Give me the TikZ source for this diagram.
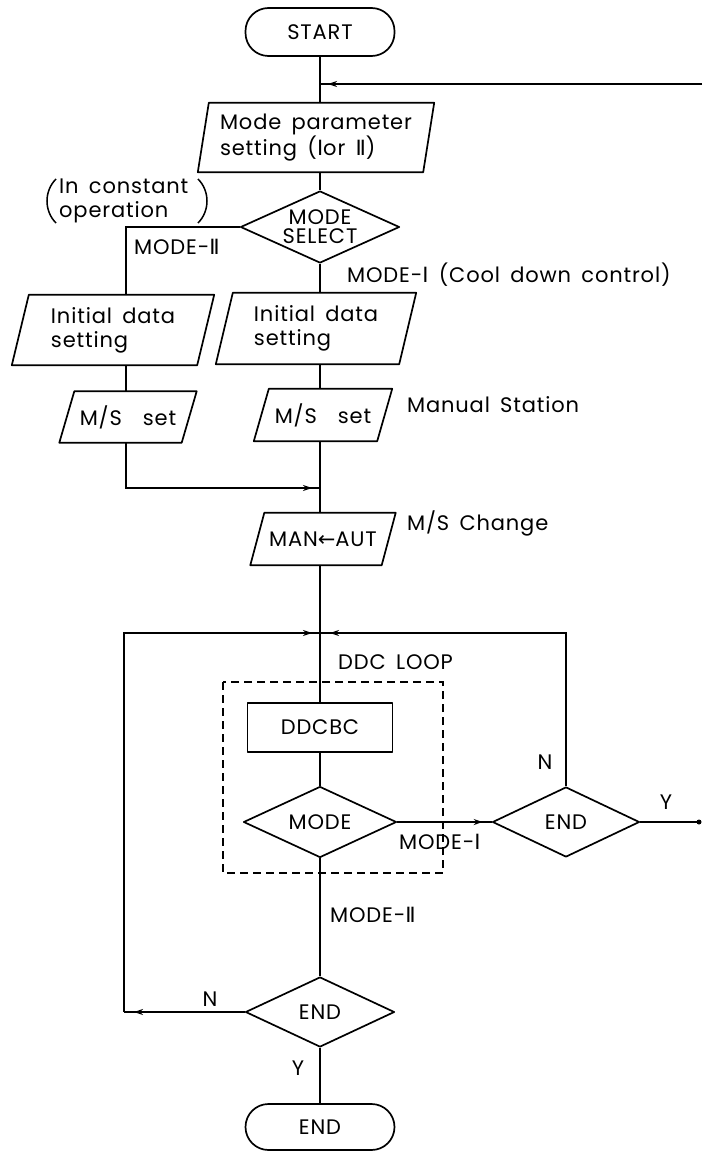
\documentclass[tikz,border=0pt]{standalone}
\usepackage{fontspec}
\setmainfont{Poppins}[LetterSpace=4, WordSpace=1.6]
\newfontfamily\djv{DejaVu Sans}
\usetikzlibrary{shapes.geometric,arrows.meta,decorations.markings,calc}
\newcommand{\RI}{{\djv Ⅰ}}
\newcommand{\RII}{{\djv Ⅱ}}
\newcommand{\paradraw}[2]{\draw[shp] ($(#1.north west)+(#2,0)$) -- (#1.north east) -- ($(#1.south east)-(#2,0)$) -- (#1.south west) -- cycle;}
\tikzset{
  txt/.style={font=\fontsize{21}{24}\selectfont},
  shp/.style={line width=1.7pt, line join=round},
  term/.style={draw, shp, txt, rounded corners=23pt, minimum width=149pt, minimum height=48pt, inner sep=0pt},
  pbox/.style={rectangle, txt, inner sep=0pt, align=left},
  dia/.style={diamond, draw, shp, inner sep=0pt},
  conn/.style={line width=1.7pt},
  arrowat/.style={postaction={decorate,decoration={markings,mark=at position #1 with {\arrow{Stealth[length=9pt,width=6pt]}}}}},
  lbl/.style={txt, inner sep=0pt},
}
\begin{document}
\begin{tikzpicture}[x=1pt,y=-1pt]
\useasboundingbox (0,0) rectangle (702,1153);
% nodes
\node[term] (start) at (320,32) {START};
\coordinate (fbJ) at (320,84);
\coordinate (fbR) at (702,84);
\node[pbox, minimum width=236pt, minimum height=69pt] (param) at (316,137.5) {Mode parameter\\setting (\RI or \RII)};
\node[dia, minimum width=159pt, minimum height=72pt, label={[lbl,align=center,font=\fontsize{21}{19}\selectfont]center:{MODE\\SELECT}}] (modesel) at (320,227) {};
\coordinate (colL) at (126,0);
\node[pbox, minimum width=202pt, minimum height=70pt] (initL) at (113,330) {Initial data\\setting};
\node[pbox, minimum width=200pt, minimum height=71pt] (initR) at (316,328.5) {Initial data\\setting};
\node[pbox, minimum width=137pt, minimum height=51pt] (msL) at (128,417) {M/S\hspace{1em}set};
\node[pbox, minimum width=138pt, minimum height=52pt] (msR) at (323,415) {M/S\hspace{1em}set};
\coordinate (mergeJ) at (320,488);
\node[pbox, minimum width=145pt, minimum height=52pt] (manaut) at (323,539) {MAN{\djv ←}AUT};
\coordinate (loopJ) at (320,633);
\coordinate (colLL) at (124,0);
\node[draw, shp, txt, minimum width=145pt, minimum height=49pt, inner sep=0pt] (ddcbc) at (320,727.5) {DDCBC};
\node[dia, minimum width=153pt, minimum height=71pt, label={[lbl]center:MODE}] (mode) at (320,822) {};
\node[dia, minimum width=147pt, minimum height=70pt, label={[lbl]center:END}] (endR) at (566,822) {};
\coordinate (yOut) at (699,822);
\node[dia, minimum width=149pt, minimum height=70pt, label={[lbl]center:END}] (endB) at (320,1012) {};
\node[term, minimum height=46pt] (endT) at (320,1127) {END};
% shapes
\paradraw{param}{11}
\paradraw{initL}{17}
\paradraw{initR}{17}
\paradraw{msL}{15}
\paradraw{msR}{15}
\paradraw{manaut}{14}
\draw[line width=1.4pt, dash pattern=on 8pt off 5pt] (223,682) rectangle (443,873);
% connectors
\draw[conn] (start.south) -- (fbJ) -- (fbJ |- param.north);
\draw[conn, arrowat=-8pt] (fbR) -- (fbJ);
\draw[conn] (modesel.north |- param.south) -- (modesel.north);
\draw[conn] (modesel.west) -- (modesel.west -| colL) -- (colL |- initL.north);
\draw[conn] (modesel.south) -- (modesel.south |- initR.north);
\draw[conn] (colL |- initL.south) -- (colL |- msL.north);
\draw[conn] (mergeJ |- initR.south) -- (mergeJ |- msR.north);
\draw[conn, arrowat=-8pt] (colL |- msL.south) -- (colL |- mergeJ) -- (mergeJ);
\draw[conn] (mergeJ |- msR.south) -- (mergeJ |- manaut.north);
\draw[conn] (mergeJ |- manaut.south) -- (ddcbc.north);
\draw[conn] (ddcbc.south) -- (mode.north);
\draw[conn, arrowat=-9pt] (mode.east) -- (endR.west);
\draw[conn, arrowat=-10pt] (endR.north) -- (endR.north |- loopJ) -- (loopJ);
\draw[conn] (endR.east) -- (yOut);
\fill (yOut) circle (2.5pt);
\draw[conn] (mode.south) -- (endB.north);
\draw[conn, arrowat=-10pt] (endB.west) -- (endB.west -| colLL);
\draw[conn, arrowat=-8pt] (endB.west -| colLL) -- (colLL |- loopJ) -- (loopJ);
\draw[conn] (endB.south) -- (endT.north);
% labels
\node[lbl, align=left, anchor=west] (note) at (59,201) {In constant\\operation};
\draw[line width=1.5pt] (56,179) .. controls (44,191) and (44,211) .. (56,223);
\draw[line width=1.5pt] (198,179) .. controls (210,191) and (210,211) .. (198,223);
\node[lbl, anchor=west] (lmII) at (134,247) {MODE-\RII};
\node[lbl, anchor=west] (lmI) at (347,275) {MODE-\RI{} (Cool down control)};
\node[lbl, anchor=west] (lman) at (407,405) {Manual Station};
\node[lbl, anchor=west] (lchg) at (407,523) {M/S Change};
\node[lbl, anchor=west] (lddc) at (338,662) {DDC LOOP};
\node[lbl, anchor=west] (lmI2) at (399,842) {MODE-\RI};
\node[lbl] (lN1) at (545,762) {N};
\node[lbl] (lY1) at (666,802) {Y};
\node[lbl, anchor=west] (lmII2) at (330,915) {MODE-\RII};
\node[lbl] (lN2) at (210,999) {N};
\node[lbl] (lY2) at (298,1068) {Y};
\end{tikzpicture}
\end{document}
